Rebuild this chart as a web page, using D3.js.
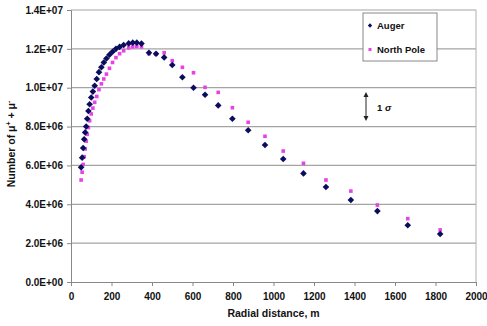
<!DOCTYPE html>
<html>
<head>
<meta charset="utf-8">
<script src="https://cdn.jsdelivr.net/npm/d3@7"></script>
<style>
  body { margin: 0; background: #fff; }
  svg text { font-family: "Liberation Sans", Arial, sans-serif; font-weight: bold; fill: #111; }
</style>
</head>
<body>
<svg id="chart" width="487" height="326"></svg>
<script>
// radial distance bins (m)
const distances = [50, 55, 60, 65, 70, 75, 80, 86, 92, 100, 108, 117, 127, 138, 150, 162, 175, 190, 205, 222, 240, 260, 285, 305, 325, 348, 385, 420, 460, 500, 550, 605, 662, 727, 797, 875, 958, 1048, 1148, 1259, 1382, 1513, 1663, 1823];
// values in units of 1e6
const auger = [5.9, 6.4, 6.9, 7.35, 7.7, 8.0, 8.4, 8.8, 9.15, 9.5, 9.8, 10.1, 10.45, 10.8, 11.05, 11.3, 11.5, 11.7, 11.85, 12.0, 12.1, 12.2, 12.28, 12.32, 12.32, 12.27, 11.8, 11.75, 11.56, 11.17, 10.54, 10.0, 9.64, 9.09, 8.4, 7.81, 7.05, 6.33, 5.59, 4.89, 4.22, 3.65, 2.92, 2.47];
const northPole = [5.25, 5.65, 6.05, 6.45, 6.85, 7.25, 7.6, 7.95, 8.3, 8.65, 8.95, 9.25, 9.55, 9.9, 10.2, 10.45, 10.7, 11.0, 11.3, 11.55, 11.75, 11.9, 12.05, 12.1, 12.12, 12.1, 11.75, 11.72, 11.8, 11.39, 11.05, 10.77, 10.02, 9.76, 8.97, 8.22, 7.5, 6.74, 6.11, 5.25, 4.68, 3.96, 3.26, 2.68];
const yTicks = [0, 2e6, 4e6, 6e6, 8e6, 1e7, 1.2e7, 1.4e7];
const yTickLabels = ["0.0E+00", "2.0E+06", "4.0E+06", "6.0E+06", "8.0E+06", "1.0E+07", "1.2E+07", "1.4E+07"];
const xTicks = [0, 200, 400, 600, 800, 1000, 1200, 1400, 1600, 1800, 2000];
const seriesNames = ["Auger", "North Pole"];

const svg = d3.select('#chart');
const plotL = 71, plotR = 476, plotT = 10, plotB = 282;

const x = d3.scaleLinear().domain([0, 2000]).range([plotL, plotR]);
const y = d3.scaleLinear().domain([0, 1.4e7]).range([plotB, plotT]);

// gridlines
svg.append('g').selectAll('line').data(yTicks.slice(1)).enter().append('line')
    .attr('x1', plotL).attr('x2', plotR)
    .attr('y1', d => y(d)).attr('y2', d => y(d))
    .attr('stroke', '#a4a4a4').attr('stroke-width', 1.2);

// right border of plot area
svg.append('line').attr('x1', plotR).attr('x2', plotR).attr('y1', plotT).attr('y2', plotB)
    .attr('stroke', '#b0b0b0').attr('stroke-width', 1);

// axes
const yAxis = d3.axisLeft(y).tickValues(yTicks).tickSize(4)
    .tickFormat((d, i) => yTickLabels[i]);
const gy = svg.append('g').attr('transform', 'translate(' + plotL + ',0)').call(yAxis);
gy.select('.domain').attr('stroke', '#888');
gy.selectAll('.tick line').attr('stroke', '#888');
gy.selectAll('text').attr('font-size', 10).attr('dx', -1);

const xAxis = d3.axisBottom(x).tickValues(xTicks).tickSize(4).tickFormat(d3.format('d'));
const gx = svg.append('g').attr('transform', 'translate(0,' + plotB + ')').call(xAxis);
gx.select('.domain').attr('stroke', '#888');
gx.selectAll('.tick line').attr('stroke', '#888');
gx.selectAll('text').attr('font-size', 10).attr('dy', '1.05em');

svg.append('text').attr('x', (plotL + plotR) / 2).attr('y', 317)
    .attr('text-anchor', 'middle').attr('font-size', 10.5).text('Radial distance, m');

const yTitle = svg.append('text')
    .attr('transform', 'translate(15,' + ((plotT + plotB) / 2 - 2) + ') rotate(-90)')
    .attr('text-anchor', 'middle').attr('font-size', 10.5);
yTitle.append('tspan').text('Number of \u03bc');
yTitle.append('tspan').attr('dy', -4).attr('font-size', 7).text('+');
yTitle.append('tspan').attr('dy', 4).text(' + \u03bc');
yTitle.append('tspan').attr('dy', -4).attr('font-size', 7).text('-');

// square diamond (rotated square) marker
const diamondPath = (r) => 'M0,' + (-r) + 'L' + r + ',0L0,' + r + 'L' + (-r) + ',0Z';

// North Pole points (magenta squares)
svg.append('g').selectAll('rect').data(distances).enter().append('rect')
    .attr('x', (d) => x(d) - 1.8)
    .attr('y', (d, i) => y(northPole[i] * 1e6) - 1.8)
    .attr('width', 3.6).attr('height', 3.6)
    .attr('fill', '#e642e6');

// Auger points (navy diamonds)
svg.append('g').selectAll('path').data(distances).enter().append('path')
    .attr('d', diamondPath(3.3))
    .attr('transform', (d, i) => 'translate(' + x(d) + ',' + y(auger[i] * 1e6) + ')')
    .attr('fill', '#0c0c5e');

// legend
const legend = svg.append('g');
legend.append('rect').attr('x', 363).attr('y', 13).attr('width', 74).attr('height', 48)
    .attr('fill', '#fff').attr('stroke', '#888').attr('stroke-width', 1);
legend.append('path').attr('d', diamondPath(2.2))
    .attr('transform', 'translate(370,25.5)').attr('fill', '#0c0c5e');
legend.append('rect').attr('x', 368.5).attr('y', 48).attr('width', 3).attr('height', 3)
    .attr('fill', '#e642e6');
legend.selectAll('text.lab').data(seriesNames).enter().append('text')
    .attr('class', 'lab')
    .attr('x', 377).attr('y', (d, i) => 29 + i * 24)
    .attr('font-size', 9.5).text(d => d);

// 1 sigma marker
const sig = svg.append('g');
sig.append('line').attr('x1', 366).attr('x2', 366).attr('y1', 95).attr('y2', 118)
    .attr('stroke', '#222').attr('stroke-width', 1);
sig.append('path').attr('d', 'M363.5,97 L366,92 L368.5,97 Z').attr('fill', '#222');
sig.append('path').attr('d', 'M363.5,116 L366,121 L368.5,116 Z').attr('fill', '#222');
const sigText = sig.append('text').attr('x', 377).attr('y', 111).attr('font-size', 9.5);
sigText.append('tspan').text('1 ');
sigText.append('tspan').attr('font-style', 'italic').text('\u03c3');
</script>
</body>
</html>
